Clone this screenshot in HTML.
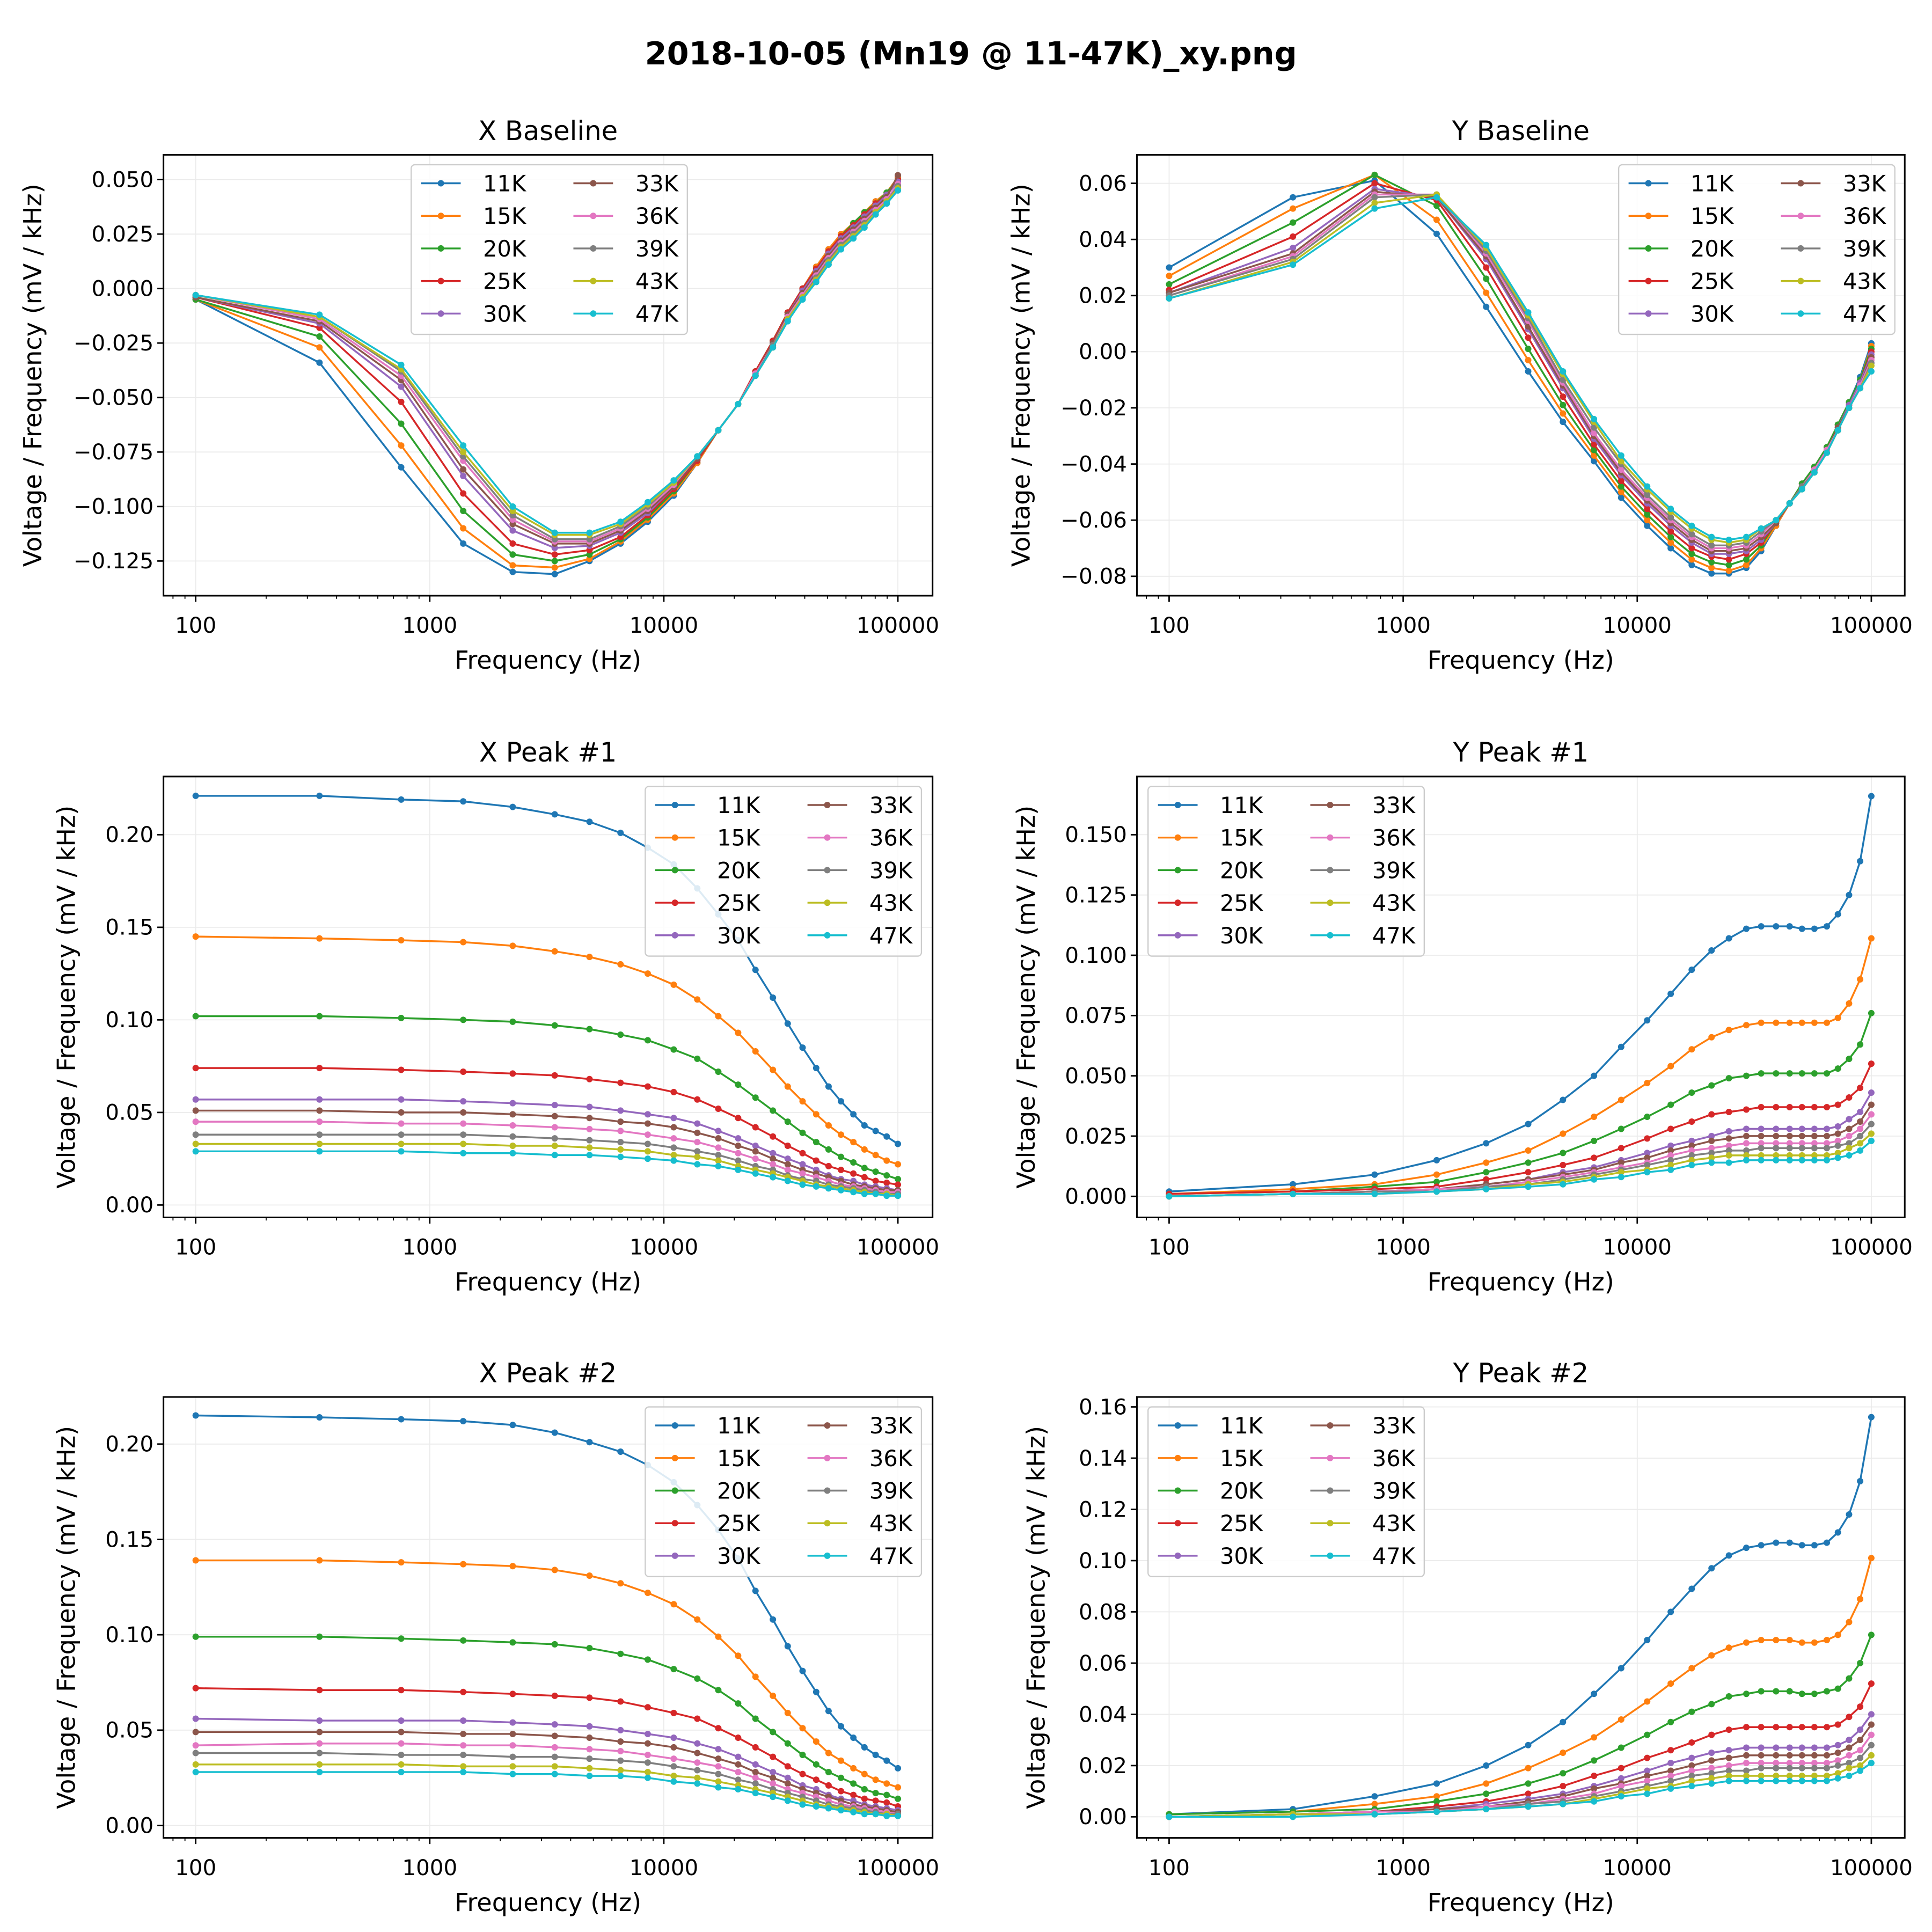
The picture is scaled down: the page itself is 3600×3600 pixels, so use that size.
<!DOCTYPE html>
<html><head><meta charset="utf-8"><style>
html,body{margin:0;padding:0;background:#fff}
svg{display:block}
text{font-family:"DejaVu Sans","Liberation Sans",sans-serif;fill:#000}
</style></head><body>
<svg id="fig" width="3600" height="3600" viewBox="0 0 1560 1560" xmlns="http://www.w3.org/2000/svg">
<rect width="1560" height="1560" fill="#fff"/>
<text x="784" y="52" text-anchor="middle" font-size="25.5" font-weight="bold">2018-10-05 (Mn19 @ 11-47K)_xy.png</text>
</svg>
<script>
const freqs=[100,338,755,1390,2262,3420,4814,6533,8537,11025,13900,17090,20770,24640,29240,33830,39160,44770,50570,57130,64550,71990,80340,89590,100000];
const seriesLabels=["11K","15K","20K","25K","30K","33K","36K","39K","43K","47K"];
const colors=["#1f77b4","#ff7f0e","#2ca02c","#d62728","#9467bd","#8c564b","#e377c2","#7f7f7f","#bcbd22","#17becf"];
const xTickLabels=["100","1000","10000","100000"];

const xBaseline=[
[-.005,-.034,-.082,-.117,-.130,-.131,-.125,-.117,-.107,-.095,-.080,-.065,-.053,-.038,-.024,-.011,.000,.010,.018,.025,.030,.035,.040,.044,.051],
[-.005,-.027,-.072,-.110,-.127,-.128,-.124,-.116,-.106,-.094,-.080,-.065,-.053,-.038,-.024,-.011,.000,.010,.018,.025,.030,.035,.040,.044,.051],
[-.005,-.022,-.062,-.102,-.122,-.125,-.122,-.115,-.105,-.093,-.079,-.065,-.053,-.038,-.024,-.011,.000,.009,.017,.024,.030,.035,.039,.044,.050],
[-.004,-.018,-.052,-.094,-.117,-.122,-.120,-.114,-.104,-.092,-.079,-.065,-.053,-.038,-.024,-.011,.000,.009,.017,.024,.029,.034,.039,.043,.050],
[-.004,-.016,-.045,-.086,-.111,-.119,-.118,-.112,-.103,-.091,-.078,-.065,-.053,-.039,-.025,-.012,-.001,.008,.016,.023,.028,.033,.038,.043,.049],
[-.004,-.015,-.042,-.083,-.108,-.117,-.117,-.111,-.102,-.091,-.078,-.065,-.053,-.039,-.025,-.012,-.002,.007,.015,.022,.027,.032,.037,.042,.052],
[-.003,-.014,-.040,-.079,-.106,-.116,-.116,-.110,-.101,-.090,-.077,-.065,-.053,-.039,-.026,-.013,-.003,.006,.014,.021,.026,.031,.036,.041,.048],
[-.003,-.013,-.038,-.077,-.104,-.115,-.115,-.109,-.100,-.089,-.077,-.065,-.053,-.040,-.026,-.014,-.004,.005,.013,.020,.025,.030,.035,.040,.047],
[-.003,-.013,-.037,-.075,-.102,-.113,-.113,-.108,-.099,-.089,-.077,-.065,-.053,-.040,-.027,-.014,-.004,.004,.012,.019,.024,.029,.035,.040,.046],
[-.003,-.012,-.035,-.072,-.100,-.112,-.112,-.107,-.098,-.088,-.077,-.065,-.053,-.040,-.027,-.015,-.005,.003,.011,.018,.023,.028,.034,.039,.045]];
const yBaseline=[
[.030,.055,.061,.042,.016,-.007,-.025,-.039,-.052,-.062,-.070,-.076,-.079,-.079,-.077,-.071,-.062,-.054,-.047,-.041,-.034,-.026,-.018,-.009,.003],
[.027,.051,.063,.047,.021,-.003,-.022,-.037,-.050,-.060,-.068,-.074,-.077,-.078,-.076,-.070,-.062,-.054,-.047,-.041,-.034,-.026,-.018,-.010,.002],
[.024,.046,.063,.052,.026,.001,-.019,-.035,-.048,-.058,-.066,-.072,-.075,-.076,-.074,-.069,-.061,-.054,-.047,-.041,-.034,-.026,-.018,-.010,.001],
[.022,.041,.060,.054,.030,.005,-.016,-.033,-.046,-.056,-.064,-.070,-.073,-.074,-.072,-.068,-.061,-.054,-.048,-.042,-.035,-.027,-.019,-.011,.000],
[.021,.037,.058,.055,.033,.008,-.013,-.031,-.044,-.054,-.062,-.068,-.072,-.072,-.071,-.067,-.061,-.054,-.048,-.042,-.035,-.027,-.019,-.011,-.001],
[.021,.035,.057,.055,.034,.009,-.012,-.030,-.043,-.053,-.061,-.067,-.071,-.071,-.070,-.066,-.061,-.054,-.048,-.042,-.035,-.027,-.020,-.012,-.002],
[.020,.034,.056,.056,.035,.011,-.011,-.029,-.042,-.052,-.060,-.066,-.070,-.070,-.069,-.065,-.060,-.054,-.048,-.042,-.035,-.028,-.020,-.012,-.003],
[.020,.033,.055,.056,.036,.012,-.010,-.027,-.040,-.051,-.059,-.065,-.069,-.069,-.068,-.064,-.060,-.054,-.048,-.043,-.036,-.028,-.020,-.013,-.004],
[.019,.032,.053,.056,.037,.013,-.008,-.025,-.039,-.049,-.057,-.063,-.067,-.068,-.067,-.063,-.060,-.054,-.049,-.043,-.036,-.028,-.020,-.013,-.005],
[.019,.031,.051,.055,.038,.014,-.007,-.024,-.037,-.048,-.056,-.062,-.066,-.067,-.066,-.063,-.060,-.054,-.049,-.043,-.036,-.028,-.020,-.013,-.007]];
const xPeak1=[
[.221,.221,.219,.218,.215,.211,.207,.201,.193,.184,.171,.157,.143,.127,.112,.098,.085,.074,.064,.056,.049,.043,.040,.037,.033],
[.145,.144,.143,.142,.140,.137,.134,.130,.125,.119,.111,.102,.093,.083,.073,.064,.056,.049,.043,.038,.034,.030,.027,.024,.022],
[.102,.102,.101,.100,.099,.097,.095,.092,.089,.084,.079,.072,.065,.058,.051,.045,.039,.034,.030,.026,.023,.020,.018,.016,.014],
[.074,.074,.073,.072,.071,.070,.068,.066,.064,.061,.057,.052,.047,.042,.037,.032,.028,.024,.021,.019,.017,.015,.013,.012,.011],
[.057,.057,.057,.056,.055,.054,.053,.051,.049,.047,.044,.040,.036,.032,.028,.025,.022,.019,.016,.014,.013,.011,.010,.009,.008],
[.051,.051,.050,.050,.049,.048,.047,.045,.044,.042,.039,.036,.032,.029,.025,.022,.019,.017,.015,.013,.011,.010,.009,.008,.008],
[.045,.045,.044,.044,.043,.042,.041,.040,.038,.036,.034,.031,.028,.025,.022,.019,.017,.015,.013,.011,.010,.009,.008,.007,.007],
[.038,.038,.038,.038,.037,.036,.035,.034,.033,.031,.029,.027,.024,.021,.019,.016,.014,.013,.011,.010,.009,.008,.007,.006,.006],
[.033,.033,.033,.033,.032,.032,.031,.030,.029,.027,.026,.024,.021,.019,.017,.015,.013,.011,.010,.009,.008,.007,.006,.006,.005],
[.029,.029,.029,.028,.028,.027,.027,.026,.025,.024,.022,.021,.019,.017,.015,.013,.011,.010,.009,.008,.007,.006,.006,.005,.005]];
const yPeak1=[
[.002,.005,.009,.015,.022,.030,.040,.050,.062,.073,.084,.094,.102,.107,.111,.112,.112,.112,.111,.111,.112,.117,.125,.139,.166],
[.001,.003,.005,.009,.014,.019,.026,.033,.040,.047,.054,.061,.066,.069,.071,.072,.072,.072,.072,.072,.072,.074,.080,.090,.107],
[.001,.002,.004,.006,.010,.014,.018,.023,.028,.033,.038,.043,.046,.049,.050,.051,.051,.051,.051,.051,.051,.053,.057,.063,.076],
[.001,.002,.003,.004,.007,.010,.013,.016,.020,.024,.028,.031,.034,.035,.036,.037,.037,.037,.037,.037,.037,.038,.041,.045,.055],
[.000,.001,.002,.003,.005,.007,.010,.012,.015,.018,.021,.023,.025,.027,.028,.028,.028,.028,.028,.028,.028,.029,.032,.035,.043],
[.000,.001,.002,.003,.005,.007,.009,.011,.014,.016,.019,.021,.023,.024,.025,.025,.025,.025,.025,.025,.025,.026,.028,.031,.038],
[.000,.001,.002,.003,.004,.006,.008,.010,.012,.014,.017,.019,.020,.021,.022,.022,.022,.022,.022,.022,.022,.023,.025,.028,.034],
[.000,.001,.002,.002,.004,.005,.007,.009,.011,.013,.015,.017,.018,.019,.019,.020,.020,.020,.020,.020,.020,.021,.022,.025,.030],
[.000,.001,.001,.002,.003,.005,.006,.008,.010,.011,.013,.015,.016,.017,.017,.017,.017,.017,.017,.017,.017,.018,.020,.022,.026],
[.000,.001,.001,.002,.003,.004,.005,.007,.008,.010,.011,.013,.014,.014,.015,.015,.015,.015,.015,.015,.015,.016,.017,.019,.023]];
const xPeak2=[
[.215,.214,.213,.212,.210,.206,.201,.196,.189,.180,.168,.155,.140,.123,.108,.094,.081,.070,.060,.052,.046,.041,.037,.034,.030],
[.139,.139,.138,.137,.136,.134,.131,.127,.122,.116,.108,.099,.089,.078,.068,.059,.051,.044,.038,.034,.030,.027,.024,.022,.020],
[.099,.099,.098,.097,.096,.095,.093,.090,.087,.082,.077,.071,.064,.056,.049,.043,.037,.032,.028,.025,.022,.019,.017,.016,.014],
[.072,.071,.071,.070,.069,.068,.067,.065,.062,.059,.056,.051,.046,.041,.036,.031,.027,.024,.021,.018,.016,.014,.013,.012,.010],
[.056,.055,.055,.055,.054,.053,.052,.050,.048,.046,.043,.040,.036,.032,.028,.025,.021,.019,.016,.014,.013,.011,.010,.009,.008],
[.049,.049,.049,.048,.048,.047,.046,.044,.043,.041,.038,.035,.032,.028,.025,.022,.019,.017,.015,.013,.011,.010,.009,.008,.007],
[.042,.043,.043,.042,.042,.041,.040,.039,.037,.035,.033,.031,.028,.025,.022,.019,.017,.015,.013,.011,.010,.009,.008,.007,.006],
[.038,.038,.037,.037,.036,.036,.035,.034,.033,.031,.029,.027,.024,.022,.019,.017,.015,.013,.011,.010,.009,.008,.007,.006,.006],
[.032,.032,.032,.031,.031,.031,.030,.029,.028,.026,.025,.023,.021,.019,.017,.015,.013,.011,.010,.009,.008,.007,.006,.006,.005],
[.028,.028,.028,.028,.027,.027,.026,.026,.025,.023,.022,.020,.019,.017,.015,.013,.011,.010,.009,.008,.007,.006,.006,.005,.005]];
const yPeak2=[
[.001,.003,.008,.013,.020,.028,.037,.048,.058,.069,.080,.089,.097,.102,.105,.106,.107,.107,.106,.106,.107,.111,.118,.131,.156],
[.001,.002,.005,.008,.013,.019,.025,.031,.038,.045,.052,.058,.063,.066,.068,.069,.069,.069,.068,.068,.069,.071,.076,.085,.101],
[.001,.002,.003,.006,.009,.013,.017,.022,.027,.032,.037,.041,.044,.047,.048,.049,.049,.049,.048,.048,.049,.050,.054,.060,.071],
[.000,.001,.002,.004,.006,.009,.012,.016,.019,.023,.026,.029,.032,.034,.035,.035,.035,.035,.035,.035,.035,.036,.039,.043,.052],
[.000,.001,.002,.003,.005,.007,.009,.012,.015,.018,.021,.023,.025,.026,.027,.027,.027,.027,.027,.027,.027,.028,.030,.034,.040],
[.000,.001,.002,.003,.004,.006,.008,.011,.013,.016,.018,.020,.022,.023,.024,.024,.024,.024,.024,.024,.024,.025,.027,.030,.036],
[.000,.001,.002,.002,.004,.005,.007,.009,.012,.014,.016,.018,.019,.020,.021,.021,.021,.021,.021,.021,.021,.022,.024,.026,.032],
[.000,.001,.001,.002,.003,.005,.006,.008,.010,.012,.014,.016,.017,.018,.018,.019,.019,.019,.019,.019,.019,.020,.021,.023,.028],
[.000,.001,.001,.002,.003,.004,.005,.007,.009,.011,.012,.014,.015,.016,.016,.016,.016,.016,.016,.016,.016,.017,.019,.020,.024],
[.000,.000,.001,.002,.003,.004,.005,.006,.008,.009,.011,.012,.013,.014,.014,.014,.014,.014,.014,.014,.014,.015,.016,.018,.021]];

const ticksXBaseline=[0.050,0.025,0.000,-0.025,-0.050,-0.075,-0.100,-0.125];
const ticksYBaseline=[0.06,0.04,0.02,0.00,-0.02,-0.04,-0.06,-0.08];
const ticksXPeak=[0.00,0.05,0.10,0.15,0.20];
const ticksYPeak1=[0.000,0.025,0.050,0.075,0.100,0.125,0.150];
const ticksYPeak2=[0.00,0.02,0.04,0.06,0.08,0.10,0.12,0.14,0.16];

const NS="http://www.w3.org/2000/svg";
const fig=document.getElementById('fig');
function mk(tag,attrs,parent){const e=document.createElementNS(NS,tag);for(const k in attrs)e.setAttribute(k,attrs[k]);(parent||fig).appendChild(e);return e;}

const panels=[
 {name:"x-baseline",title:"X Baseline",L:132,T:125,R:753,B:481,v0:0,y0:233,v1:0.05,y1:145,ticks:ticksXBaseline,dec:3,data:xBaseline,leg:[332,133],ylx:28},
 {name:"y-baseline",title:"Y Baseline",L:918,T:125,R:1538,B:481,v0:0,y0:284,v1:0.06,y1:148,ticks:ticksYBaseline,dec:2,data:yBaseline,leg:[1307,133],ylx:826},
 {name:"x-peak-1",title:"X Peak #1",L:132,T:627,R:753,B:983,v0:0,y0:973,v1:0.2,y1:674,ticks:ticksXPeak,dec:2,data:xPeak1,leg:[521,635],ylx:55},
 {name:"y-peak-1",title:"Y Peak #1",L:918,T:627,R:1538,B:983,v0:0,y0:966,v1:0.15,y1:674,ticks:ticksYPeak1,dec:3,data:yPeak1,leg:[927,635],ylx:830},
 {name:"x-peak-2",title:"X Peak #2",L:132,T:1128,R:753,B:1484,v0:0,y0:1474,v1:0.2,y1:1166,ticks:ticksXPeak,dec:2,data:xPeak2,leg:[521,1136],ylx:55},
 {name:"y-peak-2",title:"Y Peak #2",L:918,T:1128,R:1538,B:1484,v0:0,y0:1467,v1:0.16,y1:1136,ticks:ticksYPeak2,dec:2,data:yPeak2,leg:[927,1136],ylx:838}
];

panels.forEach(p=>{
 const g=mk('g',{});
 
 
 const x100=p.L+26, dec=189;
 const xs=f=>x100+(Math.log10(f)-2)*dec;
 const ys=v=>p.y0+(v-p.v0)*(p.y1-p.y0)/(p.v1-p.v0);
 const fmt=v=>{let s=Math.abs(v).toFixed(p.dec);return (v<-1e-9?'\u2212':'')+s;};
 for(let d=0;d<4;d++){const l=mk('line',{x1:xs(Math.pow(10,d+2)),x2:xs(Math.pow(10,d+2)),y1:p.T,y2:p.B,stroke:'#ebebeb','stroke-width':0.8},g);}
 p.ticks.forEach(t=>{const l=mk('line',{x1:p.L,x2:p.R,y1:ys(t),y2:ys(t),stroke:'#ebebeb','stroke-width':0.8},g);});
 p.data.forEach((vals,si)=>{
  const sg=mk('g',{},g);
  
  
  const pts=vals.map((v,i)=>xs(freqs[i]).toFixed(2)+','+ys(v).toFixed(2)).join(' ');
  mk('polyline',{points:pts,fill:'none',stroke:colors[si],'stroke-width':1.5},sg);
  vals.forEach((v,i)=>{const c=mk('circle',{cx:xs(freqs[i]),cy:ys(v),r:2.6,fill:colors[si]},sg);});
 });
 const fr=mk('rect',{x:p.L,y:p.T,width:p.R-p.L,height:p.B-p.T,fill:'none',stroke:'#000','stroke-width':1.3},g);
 
 for(let d=0;d<4;d++){
  const x=xs(Math.pow(10,d+2));
  mk('line',{x1:x,x2:x,y1:p.B,y2:p.B+5,stroke:'#000','stroke-width':1.2},g);
  const t=mk('text',{x:x,y:p.B+30,'text-anchor':'middle','font-size':17.5},g);t.textContent=xTickLabels[d];
  
 }
 for(let e=1;e<=5;e++){for(let m=2;m<=9;m++){const f=m*Math.pow(10,e);if(e===1&&m<7)continue;if(e===5)continue;const x=xs(f);if(x<p.L||x>p.R)continue;mk('line',{x1:x,x2:x,y1:p.B,y2:p.B+2.5,stroke:'#000','stroke-width':0.8},g);}}
 p.ticks.forEach(t=>{const y=ys(t);mk('line',{x1:p.L-5,x2:p.L,y1:y,y2:y,stroke:'#000','stroke-width':1.2},g);
  const tx=mk('text',{x:p.L-8,y:y+6,'text-anchor':'end','font-size':17.5},g);tx.textContent=fmt(t);
  });
 const tt=mk('text',{x:(p.L+p.R)/2,y:p.T-12,'text-anchor':'middle','font-size':21.5},g);tt.textContent=p.title;
 
 const xl=mk('text',{x:(p.L+p.R)/2,y:p.B+59,'text-anchor':'middle','font-size':20},g);xl.textContent='Frequency (Hz)';
 
 const yc=(p.T+p.B)/2;
 const yl=mk('text',{x:p.ylx,y:yc,'text-anchor':'middle','font-size':20,transform:'rotate(-90 '+p.ylx+' '+yc+')','dominant-baseline':'middle'},g);yl.textContent='Voltage / Frequency (mV / kHz)';
 
 const [lx,ly]=p.leg;
 const lg=mk('g',{},g);
 
 
 mk('rect',{x:lx,y:ly,width:223,height:137,rx:3,fill:'#fff','fill-opacity':0.85,stroke:'#ccc','stroke-width':1},lg);
 seriesLabels.forEach((lab,i)=>{
  const col=Math.floor(i/5),row=i%5;
  const bx=lx+8+col*123, by=ly+15+row*26.3;
  const eg=mk('g',{},lg);
  
  
  mk('line',{x1:bx,x2:bx+32,y1:by,y2:by,stroke:colors[i],'stroke-width':1.5},eg);
  mk('circle',{cx:bx+16,cy:by,r:2.6,fill:colors[i]},eg);
  const t=mk('text',{x:bx+50,y:by+6.5,'font-size':18},eg);t.textContent=lab;
 });
});
</script>
</body></html>
